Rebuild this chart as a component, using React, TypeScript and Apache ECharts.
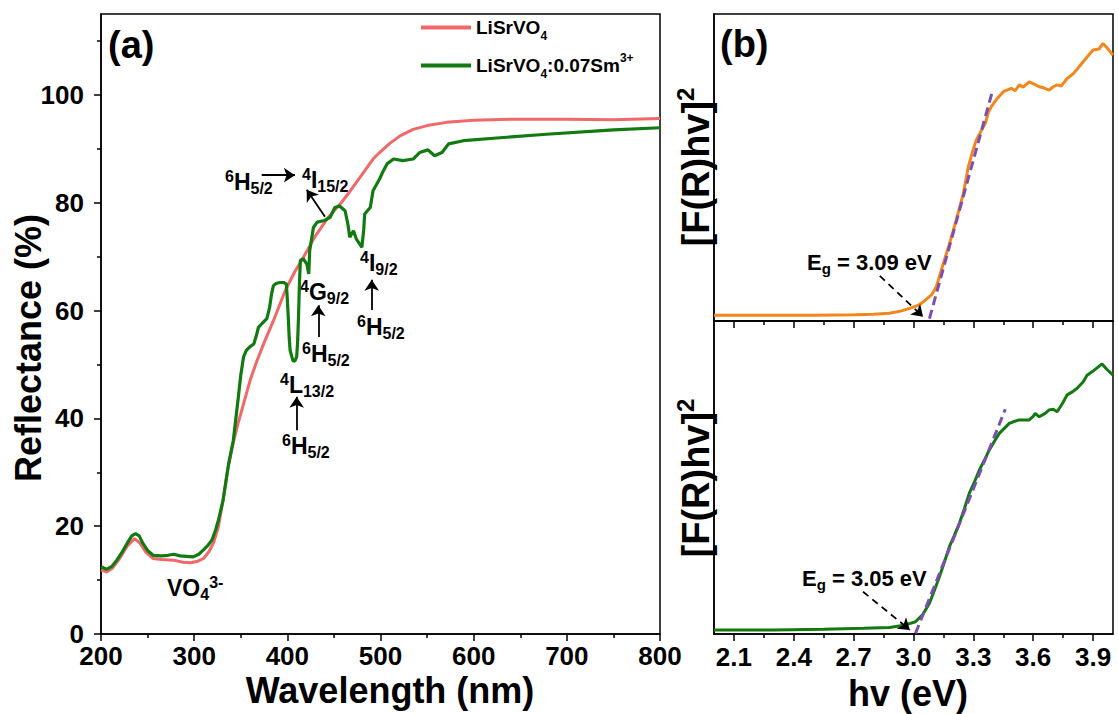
import React, { useEffect, useRef } from "react";
import * as echarts from "echarts";

const FONT = "'Liberation Sans', Arial, Helvetica, sans-serif";

// ---------- Panel (a): diffuse reflectance ----------
const wavelengthHost = [200, 206, 212, 220, 228, 236, 242, 248, 256, 265, 278, 288, 296, 304, 310, 316, 321, 326, 331, 336, 342, 347, 353, 360, 367, 375, 386, 398, 408, 417, 430, 444, 456, 466, 478, 492, 499, 510, 521, 535, 550, 571, 600, 643, 700, 750, 800];
const reflectanceHost = [11.9, 11.5, 12.2, 14.0, 16.3, 17.7, 16.8, 15.2, 14.0, 13.8, 13.7, 13.3, 13.2, 13.5, 14.0, 15.3, 17.0, 19.9, 24.8, 30.5, 35.5, 39.0, 42.7, 47.0, 50.5, 54.0, 58.5, 63.8, 67.2, 69.8, 73.8, 77.3, 79.6, 81.8, 84.7, 88.1, 89.3, 91.0, 92.4, 93.6, 94.3, 94.9, 95.3, 95.5, 95.5, 95.4, 95.6];

const wavelengthDoped = [200, 206, 212, 217, 223, 228, 233, 237, 241, 245, 250, 256, 265, 272, 278, 285, 292, 299, 305, 310, 315, 319, 323, 326, 331, 337, 342, 347, 350, 353, 356, 360, 364, 367, 369, 374, 378, 381, 383, 385, 388, 392, 396, 399, 400, 401, 402, 403, 406, 408, 410, 411, 412, 413, 414, 417, 421, 423, 424, 428, 432, 440, 446, 451, 456, 462, 465, 467, 471, 474, 477, 480, 482, 483, 489, 492, 499, 503, 507, 514, 524, 535, 542, 551, 558, 566, 573, 589, 625, 678, 750, 800];
const reflectanceDoped = [12.5, 12.0, 12.6, 13.7, 15.3, 16.8, 18.2, 18.6, 18.2, 16.8, 15.5, 14.6, 14.5, 14.6, 14.8, 14.5, 14.4, 14.3, 14.8, 15.6, 16.5, 17.4, 19.3, 21.1, 24.8, 31.6, 35.9, 43.3, 48.0, 51.4, 52.6, 53.3, 53.8, 55.5, 56.9, 57.8, 58.5, 60.6, 63.0, 64.6, 65.0, 65.2, 65.2, 64.9, 62.0, 58.8, 55.0, 52.6, 50.7, 50.6, 51.4, 54.0, 58.8, 65.0, 69.3, 69.6, 68.6, 66.8, 71.1, 75.4, 76.4, 76.7, 77.3, 79.1, 79.4, 78.5, 76.0, 73.6, 74.8, 73.3, 72.5, 71.7, 75.0, 77.9, 79.1, 82.2, 84.4, 85.9, 87.2, 88.1, 87.8, 88.1, 89.3, 89.8, 88.7, 89.3, 90.9, 91.5, 92.0, 92.7, 93.5, 93.9];

const yMajorA = [0, 20, 40, 60, 80, 100];
const yMinorA = [10, 30, 50, 70, 90, 110];

// transition arrows (wavelength, reflectance) start -> end
const arrowFromA = [[372.5, 85.1], [440.4, 77.4], [433.2, 55.1], [410.0, 37.8], [490.6, 60.1]];
const arrowToA = [[408.1, 85.1], [420.8, 82.4], [433.2, 61.0], [410.0, 44.0], [490.6, 65.7]];

// ---------- Panel (b): Kubelka-Munk plots ----------
const energyHost = [2.0, 2.3, 2.5, 2.71, 2.8, 2.88, 2.94, 2.98, 3.02, 3.05, 3.09, 3.115, 3.13, 3.15, 3.175, 3.2, 3.225, 3.25, 3.275, 3.295, 3.315, 3.34, 3.36, 3.375, 3.39, 3.42, 3.45, 3.49, 3.51, 3.53, 3.55, 3.58, 3.61, 3.63, 3.65, 3.68, 3.70, 3.72, 3.74, 3.77, 3.80, 3.83, 3.87, 3.90, 3.93, 3.95, 3.97, 4.0];
const kmHost = [1.9, 1.9, 1.9, 2.0, 2.2, 2.5, 3.3, 4.1, 5.0, 6.3, 8.5, 11.2, 14.5, 18.8, 24.0, 29.6, 35.5, 41.6, 50.3, 55.0, 59.0, 62.0, 64.4, 68.0, 69.8, 72.5, 74.7, 75.8, 75.0, 76.9, 76.2, 77.9, 77.0, 76.3, 76.0, 75.2, 76.3, 76.9, 76.5, 79.0, 80.5, 82.8, 86.0, 88.3, 88.6, 90.4, 89.0, 86.6];

const energyDoped = [2.0, 2.3, 2.55, 2.75, 2.88, 2.96, 3.01, 3.045, 3.08, 3.105, 3.13, 3.155, 3.18, 3.205, 3.23, 3.255, 3.28, 3.305, 3.33, 3.355, 3.38, 3.405, 3.43, 3.455, 3.48, 3.5, 3.53, 3.58, 3.6, 3.61, 3.63, 3.66, 3.68, 3.7, 3.72, 3.745, 3.77, 3.8, 3.82, 3.85, 3.87, 3.9, 3.945, 3.97, 4.0];
const kmDoped = [1.3, 1.3, 1.5, 1.8, 2.1, 2.9, 3.9, 6.1, 9.8, 14.0, 18.3, 23.0, 27.9, 31.5, 35.4, 40.0, 45.0, 48.5, 52.4, 55.5, 58.8, 61.5, 64.1, 65.7, 67.3, 67.8, 68.4, 68.4, 69.5, 70.5, 69.4, 70.5, 71.6, 71.8, 71.0, 73.5, 76.4, 77.5, 78.5, 80.5, 82.7, 84.0, 86.3, 84.5, 82.7];

const fitHostX = [3.08, 3.395];
const fitHostY = [0.8, 74.7];
const fitDopedX = [3.01, 3.46];
const fitDopedY = [0.2, 71.8];

const egArrowHost = [[2.831, 14.7], [3.048, 1.4]];
const egArrowDoped = [[2.747, 13.5], [2.982, 1.3]];

const xMajorB = [2.1, 2.4, 2.7, 3.0, 3.3, 3.6, 3.9];
const xMinorB = [2.25, 2.55, 2.85, 3.15, 3.45, 3.75];

const zip = (xs: number[], ys: number[]) => xs.map((x, i) => [x, ys[i]]);

const BLACK = "#000";
const RED = "#f06868";
const GREEN = "#117a11";
const ORANGE = "#f5861c";
const PURPLE = "#7b4fb0";

const axisLineStyle = { color: BLACK, width: 1.5 };
const tickLabel = { color: BLACK, fontSize: 26, fontWeight: "bold" as const, fontFamily: FONT };

function annRich(main: number, small: number, lh: number) {
  return {
    m: { fontSize: main, fontWeight: "bold", fontFamily: FONT, lineHeight: lh, fill: BLACK, color: BLACK },
    sup: { fontSize: small, fontWeight: "bold", fontFamily: FONT, lineHeight: small, verticalAlign: "top", fill: BLACK, color: BLACK },
    sub: { fontSize: small, fontWeight: "bold", fontFamily: FONT, lineHeight: small, verticalAlign: "bottom", fill: BLACK, color: BLACK },
  };
}

function label(text: string, x: number, y: number, main = 23, small = 16, lh = 28, align = "left", rotation = 0) {
  return {
    type: "text",
    x,
    y,
    rotation,
    silent: true,
    style: {
      text,
      rich: annRich(main, small, lh),
      align,
      verticalAlign: "middle",
      fill: BLACK,
    },
  };
}

function buildOption() {
  const markArrows = (from: number[][], to: number[][]) =>
    from.map((f, i) => [{ coord: f }, { coord: to[i] }]);

  return {
    animation: false,
    backgroundColor: "#fff",
    grid: [
      { left: 101, top: 14, width: 559, height: 620, show: true, borderColor: BLACK, borderWidth: 1.5, backgroundColor: "transparent" },
      { left: 714, top: 14, width: 399, height: 307, show: true, borderColor: BLACK, borderWidth: 1.5, backgroundColor: "transparent" },
      { left: 714, top: 321, width: 399, height: 313, show: true, borderColor: BLACK, borderWidth: 1.5, backgroundColor: "transparent" },
    ],
    legend: {
      left: 421,
      top: 18,
      padding: 0,
      orient: "vertical",
      icon: "rect",
      itemWidth: 50,
      itemHeight: 4,
      itemGap: 10,
      data: ["LiSrVO4", "LiSrVO4:0.07Sm3+"],
      formatter: (name: string) =>
        name === "LiSrVO4" ? "{m|LiSrVO}{sub|4}" : "{m|LiSrVO}{sub|4}{m|:0.07Sm}{sup|3+}",
      textStyle: {
        color: BLACK,
        fontFamily: FONT,
        fontSize: 19,
        fontWeight: "bold",
        rich: {
          m: { fontSize: 19, fontWeight: "bold", fontFamily: FONT, color: BLACK, lineHeight: 28 },
          sub: { fontSize: 12, fontWeight: "bold", fontFamily: FONT, color: BLACK, lineHeight: 12, verticalAlign: "bottom" },
          sup: { fontSize: 12, fontWeight: "bold", fontFamily: FONT, color: BLACK, lineHeight: 12, verticalAlign: "top" },
        },
      },
    },
    xAxis: [
      {
        gridIndex: 0, type: "value", min: 200, max: 800, interval: 100, position: "bottom",
        axisLine: { show: true, onZero: false, lineStyle: axisLineStyle },
        axisTick: { show: true, length: 7, lineStyle: axisLineStyle },
        minorTick: { show: true, splitNumber: 2, length: 4, lineStyle: axisLineStyle },
        axisLabel: { ...tickLabel, margin: 9 },
        splitLine: { show: false },
      },
      {
        gridIndex: 1, type: "value", min: 2, max: 4, position: "bottom",
        axisLine: { show: true, onZero: false, lineStyle: axisLineStyle },
        axisTick: { show: true, length: 7, customValues: xMajorB, lineStyle: axisLineStyle },
        axisLabel: { show: false },
        splitLine: { show: false },
      },
      {
        gridIndex: 1, type: "value", min: 2, max: 4, position: "bottom",
        axisLine: { show: false, onZero: false },
        axisTick: { show: true, length: 4, customValues: xMinorB, lineStyle: axisLineStyle },
        axisLabel: { show: false },
        splitLine: { show: false },
      },
      {
        gridIndex: 2, type: "value", min: 2, max: 4, position: "bottom",
        axisLine: { show: true, onZero: false, lineStyle: axisLineStyle },
        axisTick: { show: true, length: 7, customValues: xMajorB, lineStyle: axisLineStyle },
        axisLabel: { ...tickLabel, margin: 10, customValues: xMajorB, formatter: (v: number) => v.toFixed(1) },
        splitLine: { show: false },
      },
      {
        gridIndex: 2, type: "value", min: 2, max: 4, position: "bottom",
        axisLine: { show: false, onZero: false },
        axisTick: { show: true, length: 4, customValues: xMinorB, lineStyle: axisLineStyle },
        axisLabel: { show: false },
        splitLine: { show: false },
      },
    ],
    yAxis: [
      {
        gridIndex: 0, type: "value", min: 0, max: 115, position: "left",
        axisLine: { show: true, onZero: false, lineStyle: axisLineStyle },
        axisTick: { show: true, length: 7, customValues: yMajorA, lineStyle: axisLineStyle },
        axisLabel: { ...tickLabel, margin: 17, customValues: yMajorA },
        splitLine: { show: false },
      },
      {
        gridIndex: 0, type: "value", min: 0, max: 115, position: "left",
        axisLine: { show: false, onZero: false },
        axisTick: { show: true, length: 4, customValues: yMinorA, lineStyle: axisLineStyle },
        axisLabel: { show: false },
        splitLine: { show: false },
      },
      {
        gridIndex: 1, type: "value", min: 0, max: 100, position: "left",
        axisLine: { show: true, onZero: false, lineStyle: axisLineStyle },
        axisTick: { show: false }, axisLabel: { show: false }, splitLine: { show: false },
      },
      {
        gridIndex: 2, type: "value", min: 0, max: 100, position: "left",
        axisLine: { show: true, onZero: false, lineStyle: axisLineStyle },
        axisTick: { show: false }, axisLabel: { show: false }, splitLine: { show: false },
      },
    ],
    series: [
      {
        name: "LiSrVO4", type: "line", xAxisIndex: 0, yAxisIndex: 0,
        data: zip(wavelengthHost, reflectanceHost),
        showSymbol: false, symbol: "none", z: 2,
        lineStyle: { color: RED, width: 3 }, itemStyle: { color: RED },
      },
      {
        name: "LiSrVO4:0.07Sm3+", type: "line", xAxisIndex: 0, yAxisIndex: 0,
        data: zip(wavelengthDoped, reflectanceDoped),
        showSymbol: false, symbol: "none", z: 3,
        lineStyle: { color: GREEN, width: 3.2 }, itemStyle: { color: GREEN },
        markLine: {
          silent: true, symbol: ["none", "arrow"], symbolSize: 11,
          label: { show: false },
          lineStyle: { color: BLACK, width: 1.8, type: "solid" },
          data: markArrows(arrowFromA, arrowToA),
        },
      },
      {
        name: "host-km", type: "line", xAxisIndex: 1, yAxisIndex: 2,
        data: zip(energyHost, kmHost),
        showSymbol: false, symbol: "none", z: 3,
        lineStyle: { color: ORANGE, width: 3 }, itemStyle: { color: ORANGE },
        markLine: {
          silent: true, symbol: ["none", "arrow"], symbolSize: 11,
          label: { show: false },
          lineStyle: { color: BLACK, width: 1.8, type: [7, 5] },
          data: [[{ coord: egArrowHost[0] }, { coord: egArrowHost[1] }]],
        },
      },
      {
        name: "host-fit", type: "line", xAxisIndex: 1, yAxisIndex: 2,
        data: zip(fitHostX, fitHostY),
        showSymbol: false, symbol: "none", z: 4,
        lineStyle: { color: PURPLE, width: 3, type: [9, 5] }, itemStyle: { color: PURPLE },
      },
      {
        name: "doped-km", type: "line", xAxisIndex: 3, yAxisIndex: 3,
        data: zip(energyDoped, kmDoped),
        showSymbol: false, symbol: "none", z: 3,
        lineStyle: { color: GREEN, width: 3 }, itemStyle: { color: GREEN },
        markLine: {
          silent: true, symbol: ["none", "arrow"], symbolSize: 11,
          label: { show: false },
          lineStyle: { color: BLACK, width: 1.8, type: [7, 5] },
          data: [[{ coord: egArrowDoped[0] }, { coord: egArrowDoped[1] }]],
        },
      },
      {
        name: "doped-fit", type: "line", xAxisIndex: 3, yAxisIndex: 3,
        data: zip(fitDopedX, fitDopedY),
        showSymbol: false, symbol: "none", z: 4,
        lineStyle: { color: PURPLE, width: 3, type: [9, 5] }, itemStyle: { color: PURPLE },
      },
    ],
    graphic: [
      // panel tags
      label("{m|(a)}", 108, 45, 38, 20, 44),
      label("{m|(b)}", 720, 44, 38, 20, 44),
      // axis titles
      label("{m|Reflectance (%)}", 28, 348, 36, 20, 40, "center", Math.PI / 2),
      label("{m|Wavelength (nm)}", 390, 690, 36, 20, 34, "center"),
      label("{m|hv (eV)}", 908, 693, 36, 20, 30, "center"),
      label("{m|[F(R)hv]}{sup|2}", 696, 167, 38, 24, 46, "center", Math.PI / 2),
      label("{m|[F(R)hv]}{sup|2}", 696, 478, 38, 24, 46, "center", Math.PI / 2),
      // transition labels
      label("{sup|6}{m|H}{sub|5/2}", 225, 182),
      label("{sup|4}{m|I}{sub|15/2}", 302, 180),
      label("{sup|4}{m|G}{sub|9/2}", 300, 292),
      label("{sup|6}{m|H}{sub|5/2}", 302, 354),
      label("{sup|4}{m|L}{sub|13/2}", 280, 385),
      label("{sup|6}{m|H}{sub|5/2}", 282, 446),
      label("{sup|4}{m|I}{sub|9/2}", 360, 263),
      label("{sup|6}{m|H}{sub|5/2}", 357, 327),
      label("{m|VO}{sub|4}{sup|3-}", 167, 588),
      // band gaps
      label("{m|E}{sub|g}{m| = 3.09 eV}", 807, 262, 22, 15, 27),
      label("{m|E}{sub|g}{m| = 3.05 eV}", 802, 578, 22, 15, 27),
    ],
  };
}

export default function App() {
  const ref = useRef<HTMLDivElement>(null);
  useEffect(() => {
    document.body.style.margin = "0";
    if (!ref.current) return;
    const chart = echarts.init(ref.current, null, { renderer: "svg" });
    chart.setOption(buildOption() as any);
    return () => chart.dispose();
  }, []);
  return <div ref={ref} style={{ width: 1118, height: 714 }} />;
}
